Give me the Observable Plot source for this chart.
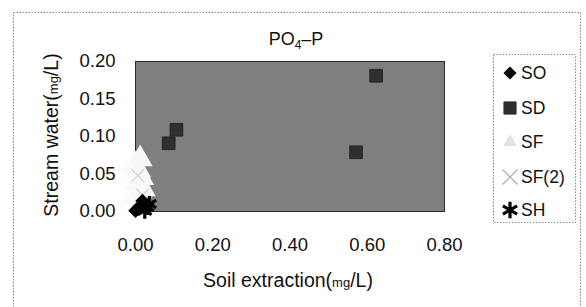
<!DOCTYPE html>
<html>
<head>
<meta charset="utf-8">
<script src="https://cdn.jsdelivr.net/npm/d3@7"></script>
<script src="https://cdn.jsdelivr.net/npm/@observablehq/plot@0.6"></script>
<style>
  html, body { margin: 0; padding: 0; background: #fff; }
  #chart { position: relative; width: 586px; height: 307px; overflow: hidden; }
  svg { font-family: "Liberation Sans", Arial, sans-serif; }
</style>
</head>
<body>
<div id="chart"></div>
<script>
// ---- data ----
const seriesNames = ["SO", "SD", "SF", "SF(2)", "SH"];
const xTicks = [0, 0.2, 0.4, 0.6, 0.8];
const yTicks = [0, 0.05, 0.10, 0.15, 0.20];

const soX = [0.000, 0.006, 0.018];
const soY = [0.001, 0.004, 0.014];

const sdX = [0.086, 0.106, 0.623, 0.571];
const sdY = [0.091, 0.109, 0.181, 0.079];

const sfX = [0.002, 0.010, 0.004, 0.016, 0.008, 0.000, 0.020, 0.012];
const sfY = [0.020, 0.028, 0.038, 0.045, 0.055, 0.062, 0.030, 0.070];

const sf2X = [0.006, 0.018];
const sf2Y = [0.048, 0.022];

const shX = [0.036, 0.024, 0.030];
const shY = [0.010, 0.001, 0.006];

const toRows = (xs, ys) => xs.map((x, i) => ({x, y: ys[i]}));
const so = toRows(soX, soY), sd = toRows(sdX, sdY), sf = toRows(sfX, sfY),
      sf2 = toRows(sf2X, sf2Y), sh = toRows(shX, shY);

const W = 586, H = 307;
const plot = Plot.plot({
  width: W, height: H,
  marginLeft: 135, marginRight: 142, marginTop: 61, marginBottom: 96,
  style: {fontFamily: '"Liberation Sans", Arial, sans-serif', fontSize: "18.5px", color: "#111", background: "transparent", overflow: "visible"},
  x: {domain: [0, 0.8]},
  y: {domain: [0, 0.2]},
  marks: [
    Plot.frame({fill: "#7f7f7f", stroke: "#2a2a2a", strokeWidth: 1}),
    Plot.axisX({ticks: xTicks, tickFormat: d3.format(".2f"), tickSize: 0, tickPadding: 26, label: null, fontSize: 18.5}),
    Plot.axisY({ticks: yTicks, tickFormat: d3.format(".2f"), tickSize: 0, tickPadding: 20, label: null, fontSize: 18.5}),
    Plot.dot(sf, {x: "x", y: "y", symbol: "triangle", r: 8, fill: "#f8f8f8", stroke: "#f8f8f8", strokeWidth: 2}),
    Plot.dot(sf2, {x: "x", y: "y", symbol: "times", r: 6, stroke: "#d4d4d4", strokeWidth: 1.2}),
    Plot.dot(sd, {x: "x", y: "y", symbol: "square", r: 7.2, fill: "#2f2f2f", stroke: "#1e1e1e", strokeWidth: 0.8}),
    Plot.dot(so, {x: "x", y: "y", symbol: "diamond2", r: 6.5, fill: "#000"}),
    Plot.dot(sh, {x: "x", y: "y", symbol: "asterisk", r: 7.5, stroke: "#000", strokeWidth: 3.2})
  ]
});
document.getElementById("chart").appendChild(plot);

const svg = d3.select(plot);
// outer dotted border
svg.insert("rect", ":first-child")
  .attr("x", 13.5).attr("y", 12.5).attr("width", 567).attr("height", 305)
  .attr("fill", "none").attr("stroke", "#8a8a8a").attr("stroke-dasharray", "1.5,1.5");

// title
const t = svg.append("text").attr("x", 296).attr("y", 45).attr("text-anchor", "middle")
  .attr("font-size", 18).attr("fill", "#111");
t.append("tspan").text("PO");
t.append("tspan").attr("font-size", 12).attr("dy", 4).text("4");
t.append("tspan").attr("dy", -4).text("\u2013P");

// y label
const yl = svg.append("text").attr("transform", "translate(58,135) rotate(-90)")
  .attr("text-anchor", "middle").attr("font-size", 19.5).attr("fill", "#111");
yl.append("tspan").text("Stream water(");
yl.append("tspan").attr("font-size", 13).text("mg");
yl.append("tspan").text("/L)");

// x label
const xl = svg.append("text").attr("x", 288).attr("y", 287)
  .attr("text-anchor", "middle").attr("font-size", 19.5).attr("fill", "#111");
xl.append("tspan").text("Soil extraction(");
xl.append("tspan").attr("font-size", 13).text("mg");
xl.append("tspan").text("/L)");

// legend
const lg = svg.append("g").attr("text-anchor", "start");
lg.append("rect").attr("x", 493.5).attr("y", 54.5).attr("width", 82).attr("height", 168)
  .attr("fill", "#fff").attr("stroke", "#8a8a8a").attr("stroke-dasharray", "1.5,1.5");
const legendY = [73, 108, 142, 177, 210];
const legendSym = [
  {type: d3.symbolDiamond2, size: 110, fill: "#000", stroke: "none", sw: 0},
  {type: d3.symbolSquare, size: 150, fill: "#2f2f2f", stroke: "#1e1e1e", sw: 0.8},
  {type: d3.symbolTriangle, size: 60, fill: "#e4e4e4", stroke: "#cfcfcf", sw: 0.6},
  {type: d3.symbolTimes, size: 150, fill: "none", stroke: "#a8a8a8", sw: 1.2},
  {type: d3.symbolAsterisk, size: 190, fill: "none", stroke: "#000", sw: 3.2}
];
seriesNames.forEach((name, i) => {
  const s = legendSym[i];
  lg.append("path").attr("d", d3.symbol(s.type, s.size)())
    .attr("transform", `translate(510,${legendY[i]})`)
    .attr("fill", s.fill).attr("stroke", s.stroke).attr("stroke-width", s.sw);
  lg.append("text").attr("x", 521).attr("y", legendY[i]).attr("dy", "0.36em")
    .attr("text-anchor", "start")
    .attr("font-size", 17.5).attr("fill", "#111").text(name);
});
</script>
</body>
</html>
